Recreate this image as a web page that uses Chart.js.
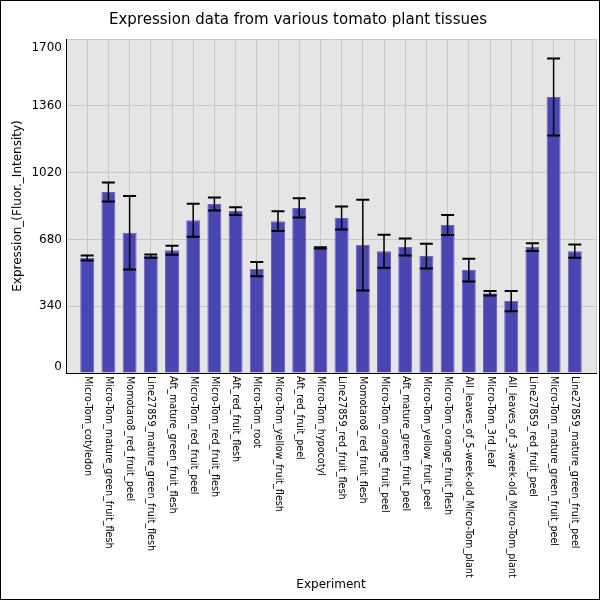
<!DOCTYPE html>
<html>
<head>
<meta charset="utf-8">
<script src="https://cdn.jsdelivr.net/npm/chart.js@4.4.0/dist/chart.umd.min.js"></script>
<style>
  body { margin: 0; background: #fff; }
  canvas { display: block; }
</style>
</head>
<body>
<canvas id="expressionChart" width="600" height="600"></canvas>
<script>
// Tissue names, one per bar
const categories = [
  'Micro-Tom_cotyledon', 'Micro-Tom_mature_green_fruit_flesh', 'Momotaro8_red_fruit_peel',
  'Line27859_mature_green_fruit_flesh', 'Aft_mature_green_fruit_flesh', 'Micro-Tom_red_fruit_peel',
  'Micro-Tom_red_fruit_flesh', 'Aft_red_fruit_flesh', 'Micro-Tom_root', 'Micro-Tom_yellow_fruit_flesh',
  'Aft_red_fruit_peel', 'Micro-Tom_hypocotyl', 'Line27859_red_fruit_flesh', 'Momotaro8_red_fruit_flesh',
  'Micro-Tom_orange_fruit_peel', 'Aft_mature_green_fruit_peel', 'Micro-Tom_yellow_fruit_peel',
  'Micro-Tom_orange_fruit_flesh', 'All_leaves_of_5-week-old_Micro-Tom_plant', 'Micro-Tom_3rd_leaf',
  'All_leaves_of_3-week-old_Micro-Tom_plant', 'Line27859_red_fruit_peel',
  'Micro-Tom_mature_green_fruit_peel', 'Line27859_mature_green_fruit_peel'
];

// Mean expression values
const values = [585, 921, 714, 595, 625, 778, 860, 824, 529, 773, 840, 637,
                789, 651, 620, 641, 595, 753, 524, 406, 366, 641, 1405, 620];

// Error (half-length of the whisker)
const errors = [13, 48, 187, 8, 23, 84, 33, 20, 36, 50, 49, 3,
                58, 231, 84, 43, 63, 51, 58, 11, 52, 20, 196, 34];

const yTicks = [0, 340, 680, 1020, 1360, 1700];

// one empty slot on each side, like the reference
const labels = [''].concat(categories, ['']);
const paddedValues = [null].concat(values, [null]);

const plotBg = {
  id: 'plotBg',
  beforeDraw(chart) {
    const { ctx, chartArea: a } = chart;
    ctx.save();
    ctx.fillStyle = '#e5e5e5';
    ctx.fillRect(a.left, a.top, a.right - a.left, a.bottom - a.top);
    ctx.restore();
  }
};

const errorBars = {
  id: 'errorBars',
  afterDatasetsDraw(chart) {
    const { ctx } = chart;
    const y = chart.scales.y;
    const meta = chart.getDatasetMeta(0);
    ctx.save();
    ctx.strokeStyle = '#000';
    values.forEach((v, i) => {
      const bar = meta.data[i + 1];
      const hi = y.getPixelForValue(v + errors[i]);
      const lo = y.getPixelForValue(v - errors[i]);
      ctx.lineWidth = 1.5;
      ctx.beginPath();
      ctx.moveTo(bar.x, hi);
      ctx.lineTo(bar.x, lo);
      ctx.stroke();
      ctx.lineWidth = 2;
      ctx.beginPath();
      ctx.moveTo(bar.x - 6.5, hi);
      ctx.lineTo(bar.x + 6.5, hi);
      ctx.moveTo(bar.x - 6.5, lo);
      ctx.lineTo(bar.x + 6.5, lo);
      ctx.stroke();
    });
    ctx.restore();
  }
};

// tick labels drawn by hand: x labels read top-to-bottom, end y labels kept inside
const tickText = {
  id: 'tickText',
  afterDraw(chart) {
    const { ctx, chartArea: a } = chart;
    const x = chart.scales.x;
    const y = chart.scales.y;
    ctx.save();
    ctx.fillStyle = '#000';
    ctx.font = '9.6px "DejaVu Sans"';
    ctx.textAlign = 'left';
    ctx.textBaseline = 'middle';
    categories.forEach((c, i) => {
      ctx.save();
      ctx.translate(x.getPixelForValue(i + 1), a.bottom + 3);
      ctx.rotate(Math.PI / 2);
      ctx.fillText(c, 0, 0);
      ctx.restore();
    });
    ctx.font = '12px "DejaVu Sans"';
    ctx.textAlign = 'right';
    yTicks.forEach(t => {
      const py = Math.min(Math.max(y.getPixelForValue(t), a.top + 9), a.bottom - 6);
      ctx.fillText(String(t), a.left - 4, py);
    });
    // outer frame
    ctx.strokeStyle = '#000';
    ctx.lineWidth = 1;
    ctx.strokeRect(0.5, 0.5, 599, 599);
    ctx.restore();
  }
};

Chart.defaults.font.family = '"DejaVu Sans"';
Chart.defaults.color = '#000';

new Chart(document.getElementById('expressionChart'), {
  type: 'bar',
  data: {
    labels: labels,
    datasets: [ {
      data: paddedValues,
      backgroundColor: '#4a46b1',
      borderColor: '#6b67c4',
      borderWidth: 1,
      categoryPercentage: 1,
      barPercentage: 0.66
    } ]
  },
  options: {
    responsive: false,
    animation: false,
    layout: { padding: { top: 0, right: 4, left: 0, bottom: 0 } },
    plugins: {
      legend: { display: false },
      tooltip: { enabled: false },
      title: {
        display: true,
        text: 'Expression data from various tomato plant tissues',
        font: { size: 15, weight: 'normal' },
        color: '#000',
        padding: { top: 11, bottom: 10 }
      }
    },
    scales: {
      x: {
        offset: false,
        grid: { color: '#c8c8c8', drawTicks: false, offset: false },
        border: { color: '#000', width: 1 },
        ticks: { display: false, autoSkip: false },
        title: {
          display: true,
          text: 'Experiment',
          font: { size: 12 },
          padding: { top: 0, bottom: 8 }
        },
        afterFit(scale) { scale.height = 227; }
      },
      y: {
        min: 0,
        max: 1700,
        grid: { color: '#c8c8c8', drawTicks: false },
        border: { color: '#000', width: 1 },
        ticks: { display: false, stepSize: 340 },
        title: {
          display: true,
          text: 'Expression_(Fluor._Intensity)',
          font: { size: 12 },
          padding: { top: 11, bottom: 0 }
        },
        afterFit(scale) { scale.width = 66; }
      }
    }
  },
  plugins: [ plotBg, errorBars, tickText ]
});
</script>
</body>
</html>
